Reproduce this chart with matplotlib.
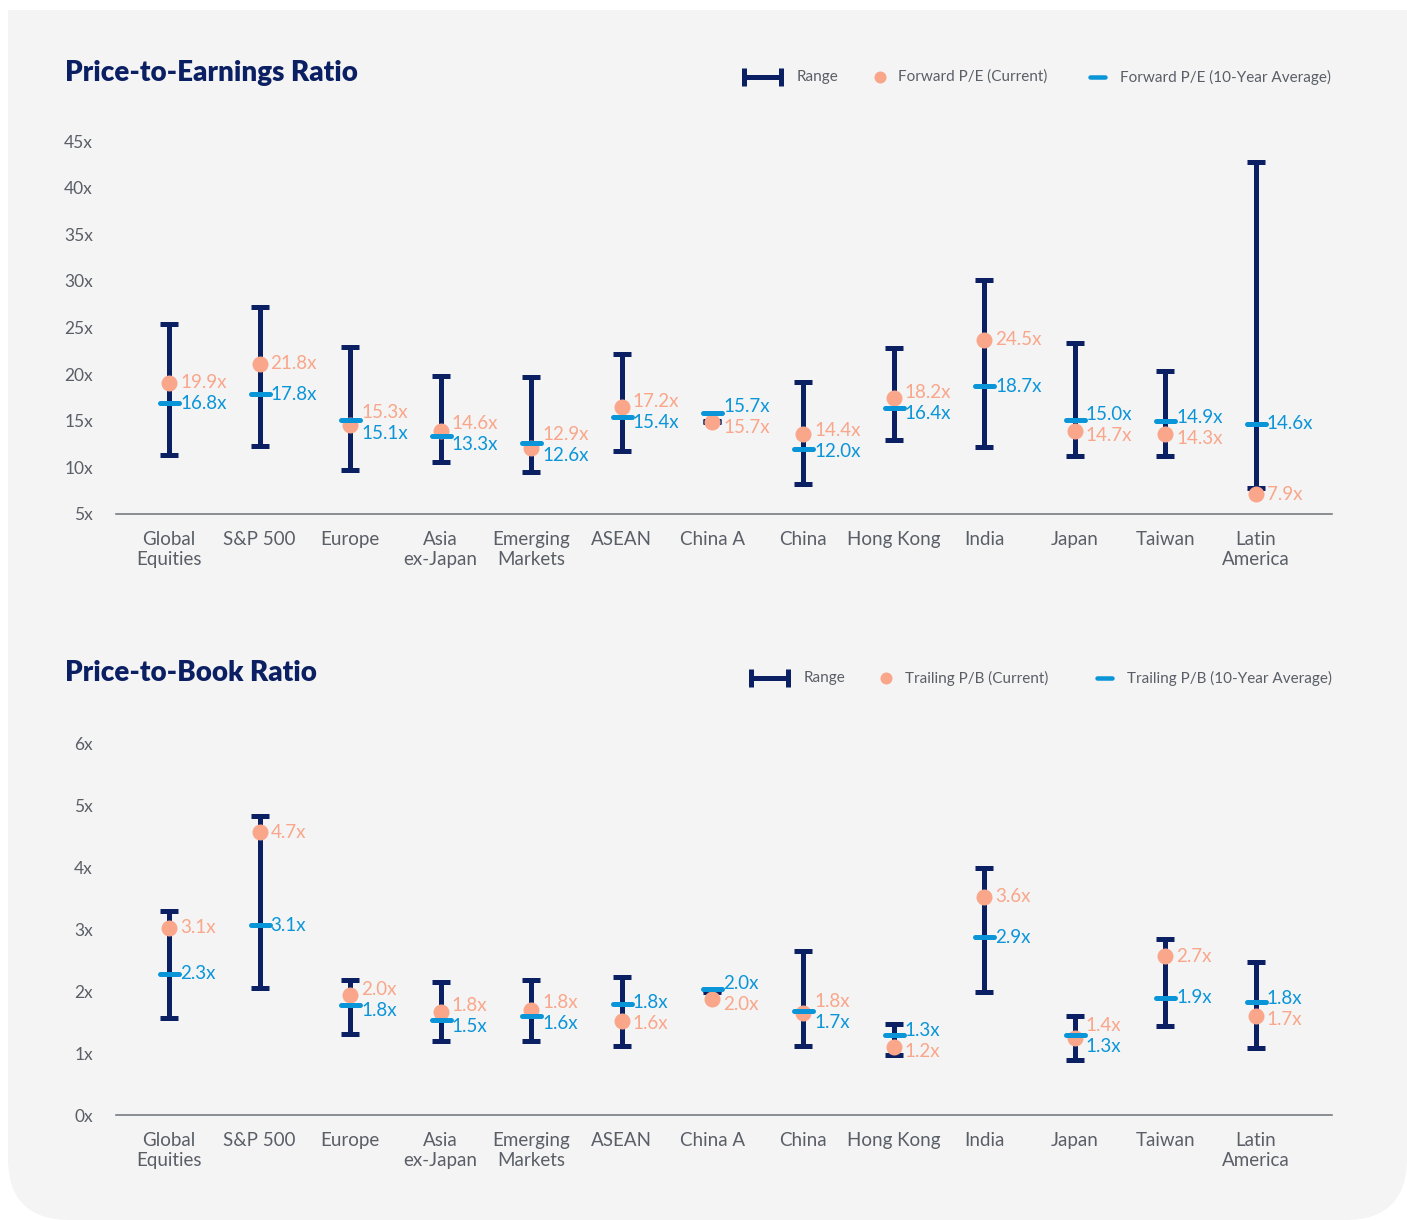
import numpy as np
import matplotlib
matplotlib.use("Agg")
import matplotlib.pyplot as plt
from matplotlib.patches import FancyBboxPatch, Rectangle
from matplotlib.markers import MarkerStyle

plt.rcParams['font.family'] = ['Lato', 'DejaVu Sans']

# ---- data ----
markets = ["Global\nEquities", "S&P 500", "Europe", "Asia\nex-Japan", "Emerging\nMarkets",
           "ASEAN", "China A", "China", "Hong Kong", "India", "Japan", "Taiwan", "Latin\nAmerica"]

# price-to-earnings
pe_low = [11.3, 12.3, 9.75, 10.6, 9.5, 11.75, 14.85, 8.25, 12.9, 12.15, 11.2, 11.2, 7.8]
pe_high = [25.4, 27.2, 22.9, 19.75, 19.7, 22.2, 15.0, 19.2, 22.75, 30.05, 23.3, 20.35, 42.75]
pe_cur = [19.1, 21.1, 14.5, 13.9, 12.1, 16.5, 14.9, 13.6, 17.45, 23.7, 13.9, 13.6, 7.1]
pe_avg = [16.85, 17.85, 15.1, 13.35, 12.65, 15.45, 15.8, 12.0, 16.4, 18.7, 15.1, 14.95, 14.7]
pe_cur_lbl = ["19.9", "21.8", "15.3", "14.6", "12.9", "17.2", "15.7", "14.4", "18.2", "24.5", "14.7", "14.3", "7.9"]
pe_avg_lbl = ["16.8", "17.8", "15.1", "13.3", "12.6", "15.4", "15.7", "12.0", "16.4", "18.7", "15.0", "14.9", "14.6"]
pe_ticks = [5, 10, 15, 20, 25, 30, 35, 40, 45]

# price-to-book
pb_low = [1.56, 2.05, 1.31, 1.19, 1.2, 1.12, 1.98, 1.11, 0.96, 1.99, 0.89, 1.44, 1.08]
pb_high = [3.29, 4.83, 2.17, 2.15, 2.17, 2.23, 2.01, 2.64, 1.47, 3.99, 1.59, 2.84, 2.46]
pb_cur = [3.02, 4.56, 1.93, 1.66, 1.69, 1.51, 1.87, 1.65, 1.09, 3.52, 1.25, 2.56, 1.59]
pb_avg = [2.28, 3.06, 1.78, 1.54, 1.59, 1.79, 2.04, 1.68, 1.29, 2.87, 1.29, 1.89, 1.83]
pb_cur_lbl = ["3.1", "4.7", "2.0", "1.8", "1.8", "1.6", "2.0", "1.8", "1.2", "3.6", "1.4", "2.7", "1.7"]
pb_avg_lbl = ["2.3", "3.1", "1.8", "1.5", "1.6", "1.8", "2.0", "1.7", "1.3", "2.9", "1.3", "1.9", "1.8"]
pb_ticks = [0, 1, 2, 3, 4, 5, 6]

NAVY = "#0b1f63"
SALMON = "#f9a68a"
BLUE = "#0a95d9"
GRAY = "#5a5e66"
BG = "#f4f4f4"

W, H = 1407, 1220
fig = plt.figure(figsize=(W / 100, H / 100), dpi=100)
fig.patch.set_facecolor("white")

# pixel-space background axes (panel, titles, legends)
bg = fig.add_axes([0, 0, 1, 1], zorder=-1)
bg.set_xlim(0, W)
bg.set_ylim(H, 0)
bg.axis("off")
bg.add_patch(FancyBboxPatch((8, 10), W - 8, H - 10, boxstyle="round,pad=0,rounding_size=62",
                            fc=BG, ec="none"))
bg.add_patch(Rectangle((8, 10), W - 8, 200, fc=BG, ec="none"))


def px2pt(v):
    return v * 72 / 100


def draw_panel(rect, low, high, cur, avg, cur_lbl, avg_lbl, ylim, ticks):
    ax = fig.add_axes(rect)
    ax.set_facecolor("none")
    x = np.arange(len(markets))
    low = np.array(low)
    high = np.array(high)
    mid = (low + high) / 2
    ax.errorbar(x, mid, yerr=[mid - low, high - mid], fmt="none", ecolor=NAVY,
                elinewidth=px2pt(5), capsize=px2pt(9), capthick=px2pt(5), zorder=2, clip_on=False)
    ax.plot(x, cur, "o", color=SALMON, ms=px2pt(16), mec="none", zorder=3, clip_on=False)
    ax.plot(x, avg, linestyle="none", marker=MarkerStyle("_", capstyle="round"), color=BLUE,
            ms=px2pt(19), mew=px2pt(5), zorder=4, clip_on=False)

    ax.set_xlim(-0.585, 12.84)
    ax.set_ylim(*ylim)
    ax.set_yticks(ticks)
    ax.set_yticklabels([f"{t}x" for t in ticks])
    ax.set_xticks(x)
    ax.set_xticklabels(markets, linespacing=1.2)
    ax.tick_params(axis="y", length=0, pad=px2pt(23), labelsize=12.5, labelcolor=GRAY)
    ax.tick_params(axis="x", length=0, pad=px2pt(17), labelsize=13.5, labelcolor=GRAY)
    for s in ["top", "right", "left"]:
        ax.spines[s].set_visible(False)
    ax.spines["bottom"].set_color("#6b6f76")
    ax.spines["bottom"].set_linewidth(1.1)

    # value labels, pushed apart when the markers sit close together
    ppu = ax.bbox.height / (ylim[1] - ylim[0])
    for i in range(len(markets)):
        c, a = cur[i], avg[i]
        cl, al = float(cur_lbl[i]), float(avg_lbl[i])
        cur_on_top = cl > al or (cl == al and c > a)
        half = max(abs(c - a) * ppu / 2, 10.5)
        m = (c + a) / 2
        dc = half if cur_on_top else -half
        ax.annotate(cur_lbl[i] + "x", xy=(i, m), xytext=(px2pt(11), px2pt(dc)),
                    textcoords="offset points", va="center", ha="left",
                    fontsize=13.5, color=SALMON, zorder=5)
        ax.annotate(avg_lbl[i] + "x", xy=(i, m), xytext=(px2pt(11), px2pt(-dc)),
                    textcoords="offset points", va="center", ha="left",
                    fontsize=13.5, color=BLUE, zorder=5)
    return ax


def legend(y, cur_text, avg_text, xs):
    r0, r1, tx_range, dot_x, tx_cur, d0, d1, tx_avg = xs
    bg.errorbar((r0 + r1) / 2, y, xerr=(r1 - r0) / 2, fmt="none", ecolor=NAVY,
                elinewidth=px2pt(5), capsize=px2pt(9), capthick=px2pt(5))
    bg.text(tx_range, y, "Range", va="center", ha="left", fontsize=11, color=GRAY)
    bg.plot(dot_x, y, "o", color=SALMON, ms=px2pt(12), mec="none")
    bg.text(tx_cur, y, cur_text, va="center", ha="left", fontsize=11, color=GRAY)
    bg.plot([d0, d1], [y, y], color=BLUE, lw=px2pt(4.5), solid_capstyle="round")
    bg.text(tx_avg, y, avg_text, va="center", ha="left", fontsize=11, color=GRAY)


left = 116 / W
width = (1332 - 116) / W
draw_panel([left, 1 - 514 / H, width, (514 - 141) / H], pe_low, pe_high, pe_cur, pe_avg,
           pe_cur_lbl, pe_avg_lbl, (5, 45), pe_ticks)
draw_panel([left, 1 - 1115 / H, width, (1115 - 743) / H], pb_low, pb_high, pb_cur, pb_avg,
           pb_cur_lbl, pb_avg_lbl, (0, 6), pb_ticks)

bg.text(65, 73, "Price-to-Earnings Ratio", va="center", ha="left", fontsize=20,
        fontweight="heavy", color=NAVY)
bg.text(65, 673, "Price-to-Book Ratio", va="center", ha="left", fontsize=20,
        fontweight="heavy", color=NAVY)

legend(77, "Forward P/E (Current)", "Forward P/E (10-Year Average)",
       (744, 781, 797, 880, 898, 1090, 1105, 1120))
legend(678, "Trailing P/B (Current)", "Trailing P/B (10-Year Average)",
       (751, 788, 804, 886, 905, 1097, 1112, 1127))

fig.savefig("out.png", dpi=100, facecolor=fig.get_facecolor())
